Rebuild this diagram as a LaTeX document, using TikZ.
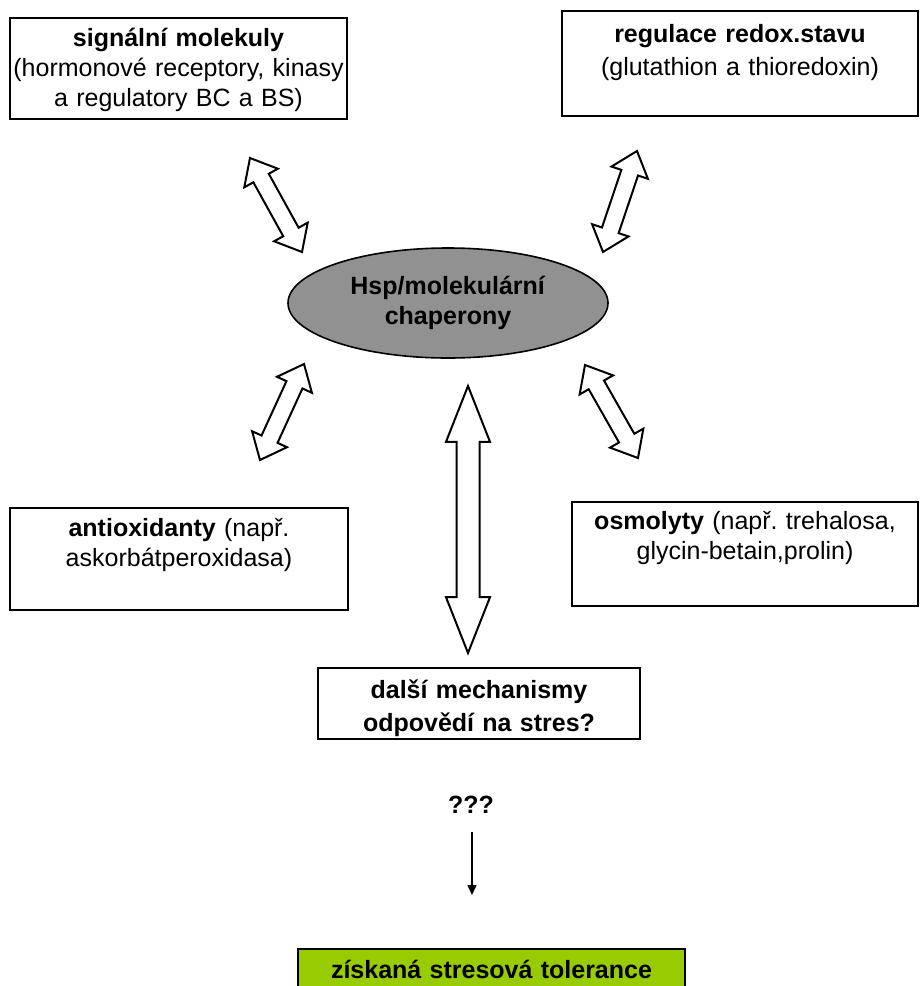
\documentclass[tikz,border=0pt]{standalone}
\usepackage{fontspec}
\setmainfont{Liberation Sans}
\usetikzlibrary{arrows.meta,calc,shapes.geometric,shapes.arrows}

\definecolor{hspgray}{RGB}{145,145,145}
\definecolor{tolgreen}{RGB}{153,204,0}

\begin{document}
\frenchspacing
\begin{tikzpicture}[x=0.5pt,y=-0.5pt,
font=\fontsize{12.5}{15}\selectfont]
\tikzstyle{box}=[draw,line width=1pt,inner sep=0pt,align=center,anchor=north]
\tikzset{blockarrow/.style n args={3}{to path={
  let \p1=(\tikztostart), \p2=(\tikztotarget),
      \n1={atan2(\y2-\y1,\x2-\x1)}, \n2={veclen(\x2-\x1,\y2-\y1)} in
  node[double arrow,draw,fill=white,line width=1pt,inner sep=0pt,inner ysep=#1,
       double arrow head extend=#2,double arrow tip angle=#3,
       minimum width=0pt,minimum height=\n2,rotate=\n1]
       at ($(\p1)!.5!(\p2)$) {}}}}
\tikzstyle{sidearrow}=[blockarrow={3.9pt}{5.2pt}{80}]
\tikzstyle{mainarrow}=[blockarrow={5.25pt}{5.25pt}{43}]

\useasboundingbox (0,0) rectangle (921,986);

\node[box,minimum width=168.5pt,text width=168.5pt,text height=14pt,text depth=36.5pt]
  (sig) at (178.5,17) {\textbf{signální molekuly}\\(hormonové receptory, kinasy\\a regulatory BC a BS)};
\node[box,minimum width=178pt,text width=178pt,text height=15.5pt,text depth=37pt]
  (redox) at (740,10) {\textbf{regulace redox.stavu}\\[1.5pt](glutathion a thioredoxin)};
\node[box,minimum width=169pt,text width=169pt,text height=14pt,text depth=37pt]
  (antiox) at (179,507) {\textbf{antioxidanty} (např.\\askorbátperoxidasa)};
\node[box,minimum width=173pt,text width=173pt,text height=13.5pt,text depth=38.5pt]
  (osmo) at (745,501) {\textbf{osmolyty} (např. trehalosa,\\glycin-betain,prolin)};
\node[box,minimum width=161pt,text width=161pt,text height=15pt,text depth=20.5pt]
  (dalsi) at (479,667) {\textbf{další mechanismy}\\[1.5pt]\textbf{odpovědí na stres?}};
\node[box,fill=tolgreen,minimum width=193.5pt,text width=193.5pt,text height=14.5pt,text depth=9pt]
  (tol) at (491.5,948) {\textbf{získaná stresová tolerance}};

\node[ellipse,draw,fill=hspgray,line width=0.8pt,minimum width=160pt,minimum height=55pt,align=center]
  (hsp) at (448,303) {\textbf{Hsp/molekulární}\\\textbf{chaperony}};
\node (qq) at (471,805) {\textbf{???}};

\coordinate (sig-end) at (250,158);
\coordinate (hsp-sig) at (302,252);
\coordinate (redox-end) at (637,151);
\coordinate (hsp-redox) at (603,252);
\coordinate (antiox-end) at (260,460);
\coordinate (hsp-antiox) at (304,364);
\coordinate (osmo-end) at (638,458);
\coordinate (hsp-osmo) at (585,365);
\coordinate (hsp-dalsi) at (468,386);
\coordinate (dalsi-end) at (468,653);
\coordinate (qq-out) at (472,832);
\coordinate (tol-in) at (472,895);

\path (sig-end) to[sidearrow] (hsp-sig)
(redox-end) to[sidearrow] (hsp-redox)
(antiox-end) to[sidearrow] (hsp-antiox)
(osmo-end) to[sidearrow] (hsp-osmo)
(hsp-dalsi) to[mainarrow] (dalsi-end);

\draw[line width=0.7pt,-{Triangle[length=5pt,width=4.5pt]}] (qq-out) -- (tol-in);
\end{tikzpicture}
\end{document}
